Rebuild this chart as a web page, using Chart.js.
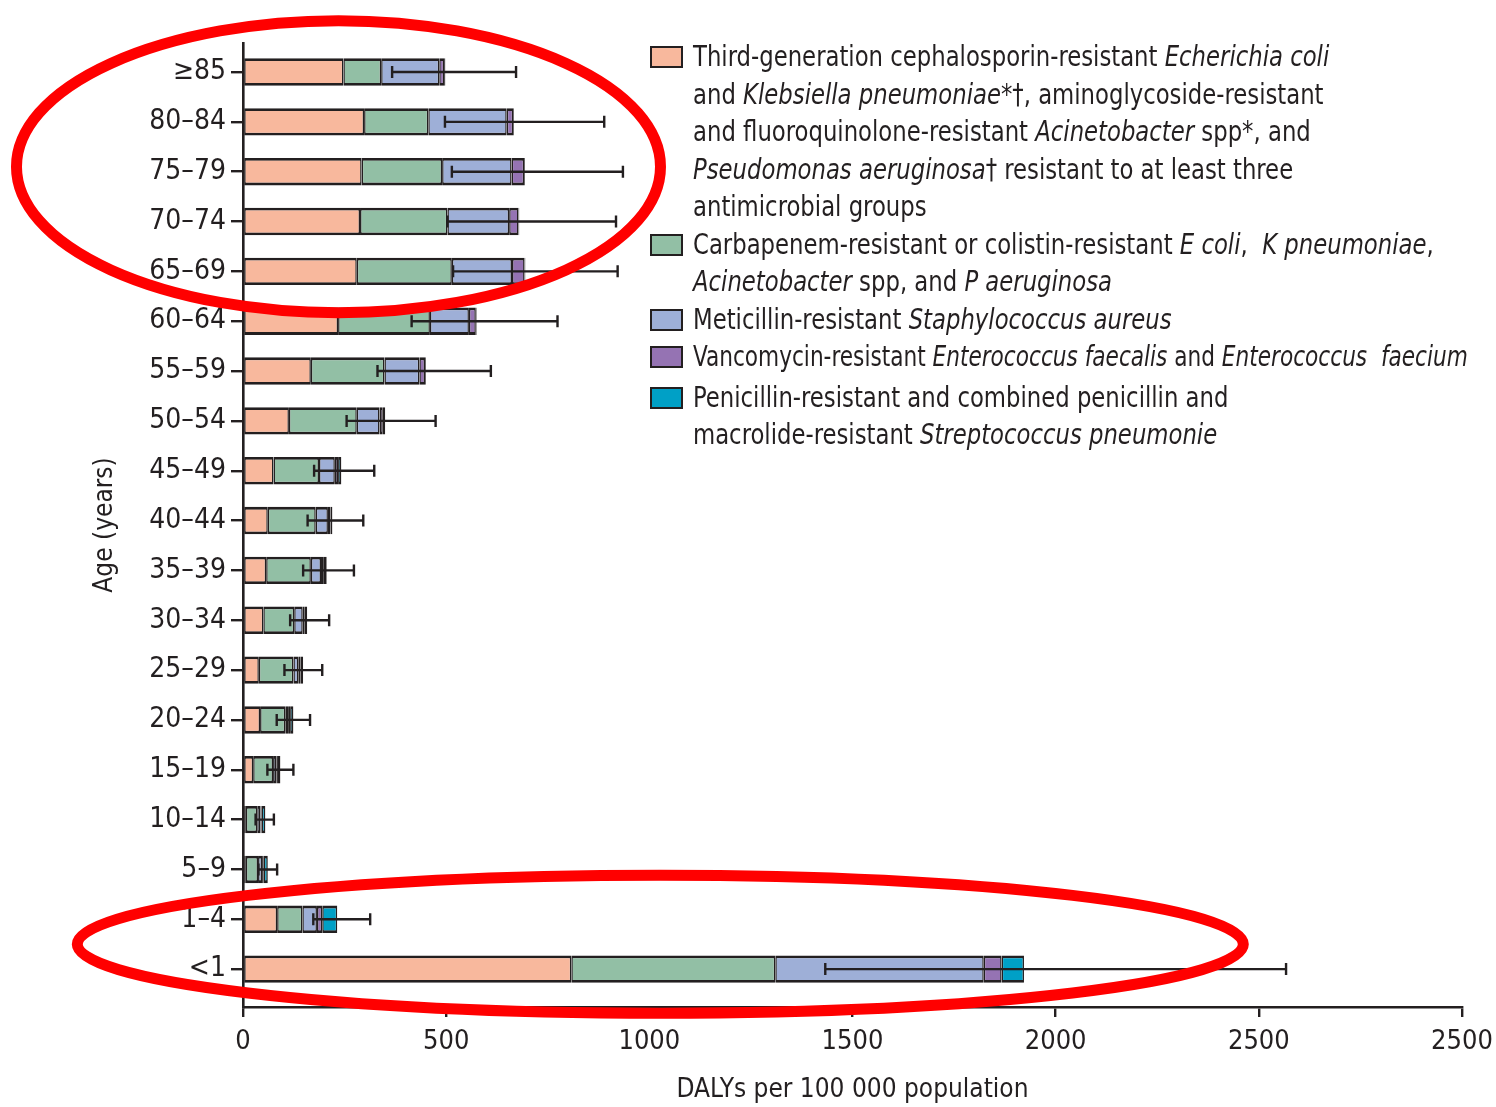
<!DOCTYPE html>
<html><head><meta charset="utf-8">
<script src="https://cdn.jsdelivr.net/npm/chart.js@4.4.1/dist/chart.umd.min.js"></script>
<style>
html,body{margin:0;padding:0;background:#fff;}
#wrap{position:relative;width:1496px;height:1107px;overflow:hidden;}
canvas{position:absolute;left:0;top:0;}
#legend{position:absolute;left:650px;top:38px;font-family:"DejaVu Sans Condensed","Liberation Sans Narrow",sans-serif;font-size:27.5px;color:#231f20;line-height:37.5px;white-space:nowrap;}
.item{position:relative;padding-left:43px;}
.txt{display:inline-block;transform:scaleX(0.92);transform-origin:0 0;}
.sw{position:absolute;left:0;top:8px;width:29px;height:18px;border:2px solid #231f20;}
</style></head>
<body><div id="wrap"><canvas id="c" width="1496" height="1107"></canvas><div id="legend"></div></div>
<script>
// ---- data ----
const ageGroups = ["≥85","80–84","75–79","70–74","65–69","60–64","55–59","50–54","45–49","40–44","35–39","30–34","25–29","20–24","15–19","10–14","5–9","1–4","<1"];
const thirdGenCeph = [247,298,292,288,280,234,167,113,75,61,57,50,39,42,25,7,7,84,808];
const carbapenem   = [93,158,198,215,234,226,181,167,112,118,110,76,85,62,49,28,30,62,502];
const mrsa         = [143,193,171,152,148,96,86,56,39,30,25,21,12,7,8,8,10,36,513];
const vre          = [12,16,31,23,31,17,14,8,8,6,7,5,6,5,4,3,4,13,44];
const penicillin   = [3,2,2,2,2,2,2,6,8,5,7,6,6,8,6,9,10,37,55];
const errLow  = [367,497,514,503,517,415,331,255,175,159,148,116,102,83,60,31,38,173,1433];
const errHigh = [672,889,935,918,922,774,610,474,323,296,273,212,195,165,124,76,84,313,2567];
const xTickValues = [0,500,1000,1500,2000,2500,3000];
const xTickLabels = ["0","500","1000","1500","2000","2500","2500"];
const seriesLabels = [
  'Third-generation cephalosporin-resistant <i>Echerichia coli</i><br>and <i>Klebsiella pneumoniae</i>*†, aminoglycoside-resistant<br>and fluoroquinolone-resistant <i>Acinetobacter</i> spp*, and<br><i>Pseudomonas aeruginosa</i>† resistant to at least three<br>antimicrobial groups',
  'Carbapenem-resistant or colistin-resistant <i>E coli</i>,&nbsp; <i>K pneumoniae</i>,<br><i>Acinetobacter</i> spp, and <i>P aeruginosa</i>',
  'Meticillin-resistant <i>Staphylococcus aureus</i>',
  'Vancomycin-resistant <i>Enterococcus faecalis</i> and <i>Enterococcus&nbsp; faecium</i>',
  'Penicillin-resistant and combined penicillin and<br>macrolide-resistant <i>Streptococcus pneumonie</i>'
];
const seriesPlain = ["Third-generation cephalosporin-resistant","Carbapenem-resistant or colistin-resistant","Meticillin-resistant Staphylococcus aureus","Vancomycin-resistant Enterococcus","Penicillin-resistant Streptococcus pneumonie"];
// ---- style ----
const colors = ['#f8b89d','#92bfa5','#9eafd7','#9573b3','#00a0c6'];
const ink = '#231f20';
const FONT = '"DejaVu Sans Condensed","Liberation Sans Narrow",sans-serif';

const legend = document.getElementById('legend');
seriesLabels.forEach((t,k)=>{
  const d=document.createElement('div'); d.className='item';
  if(k===4) d.style.marginTop='3px';
  const sc = k===3 ? 0.875 : 0.92;
  d.innerHTML='<span class="sw" style="background:'+colors[k]+'"></span><span class="txt" style="transform:scaleX('+sc+')">'+t+'</span>';
  legend.appendChild(d);
});

const seriesValues=[thirdGenCeph,carbapenem,mrsa,vre,penicillin];
const datasets=seriesValues.map((vals,k)=>({
  label:seriesPlain[k],
  data:vals.map((v,i)=>({x:v,y:i})),
  backgroundColor:colors[k],
  borderColor:ink,
  borderWidth:{top:2.8,bottom:2.8,left:1.5,right:1.5},
  borderSkipped:false,
  categoryPercentage:1,
  barPercentage:0.55
}));

const errorBars={id:'errorBars',afterDatasetsDraw(chart){
  const {ctx,scales:{x,y}}=chart;
  ctx.save();ctx.strokeStyle=ink;ctx.lineWidth=2.4;ctx.lineCap='butt';
  errLow.forEach((lo,i)=>{
    const yy=y.getPixelForValue(i),x1=x.getPixelForValue(lo),x2=x.getPixelForValue(errHigh[i]);
    ctx.beginPath();ctx.moveTo(x1,yy);ctx.lineTo(x2,yy);
    ctx.moveTo(x1,yy-6);ctx.lineTo(x1,yy+6);ctx.moveTo(x2,yy-6);ctx.lineTo(x2,yy+6);ctx.stroke();
  });
  ctx.restore();
}};

const ellipses={id:'ellipses',afterDraw(chart){
  const {ctx,scales:{x,y}}=chart;
  ctx.save();ctx.strokeStyle='#ff0000';ctx.lineWidth=11;
  // top group: ≥85 .. 65–69
  let cy=(y.getPixelForValue(0)+y.getPixelForValue(4))/2-5;
  ctx.beginPath();ctx.ellipse(x.getPixelForValue(235),cy,322,146,0,0,Math.PI*2);ctx.stroke();
  // bottom group: 1–4 .. <1
  cy=(y.getPixelForValue(17)+y.getPixelForValue(18))/2;
  ctx.beginPath();ctx.ellipse(x.getPixelForValue(1027),cy,583,69,0,0,Math.PI*2);ctx.stroke();
  ctx.restore();
}};

new Chart(document.getElementById('c'),{
  type:'bar',
  data:{datasets},
  options:{
    indexAxis:'y',responsive:false,animation:false,
    layout:{padding:{top:43,right:34,left:90,bottom:0}},
    plugins:{legend:{display:false},tooltip:{enabled:false}},
    scales:{
      x:{type:'linear',min:0,max:3000,stacked:true,offset:false,
        afterBuildTicks:s=>{s.ticks=xTickValues.map(v=>({value:v}));},
        ticks:{callback:(v,i)=>xTickLabels[i],font:{size:27,family:FONT},color:ink,padding:9,maxRotation:0,autoSkip:false},
        grid:{offset:false,drawOnChartArea:false,drawTicks:true,tickLength:10,color:ink,lineWidth:2.4},
        border:{display:true,color:ink,width:2.6},
        title:{display:true,text:'DALYs per 100 000 population',font:{size:26,family:FONT},color:ink,padding:{top:0,bottom:1}},
        afterFit:s=>{s.height=100;s.paddingRight=0;s.paddingLeft=0;}
      },
      y:{type:'linear',reverse:true,min:-0.582,max:18.76,stacked:true,offset:false,
        afterBuildTicks:s=>{s.ticks=ageGroups.map((_,i)=>({value:i}));},
        ticks:{callback:v=>ageGroups[v],font:{size:28,family:FONT},color:ink,padding:5,autoSkip:false},
        grid:{offset:false,drawOnChartArea:false,drawTicks:true,tickLength:12,color:ink,lineWidth:2.4},
        border:{display:true,color:ink,width:2.6},
        title:{display:true,text:'Age (years)',font:{size:26,family:FONT},color:ink,padding:{top:0,bottom:0}},
        afterFit:s=>{s.width=153;}
      }
    }
  },
  plugins:[errorBars,ellipses]
});
</script>
</body></html>
